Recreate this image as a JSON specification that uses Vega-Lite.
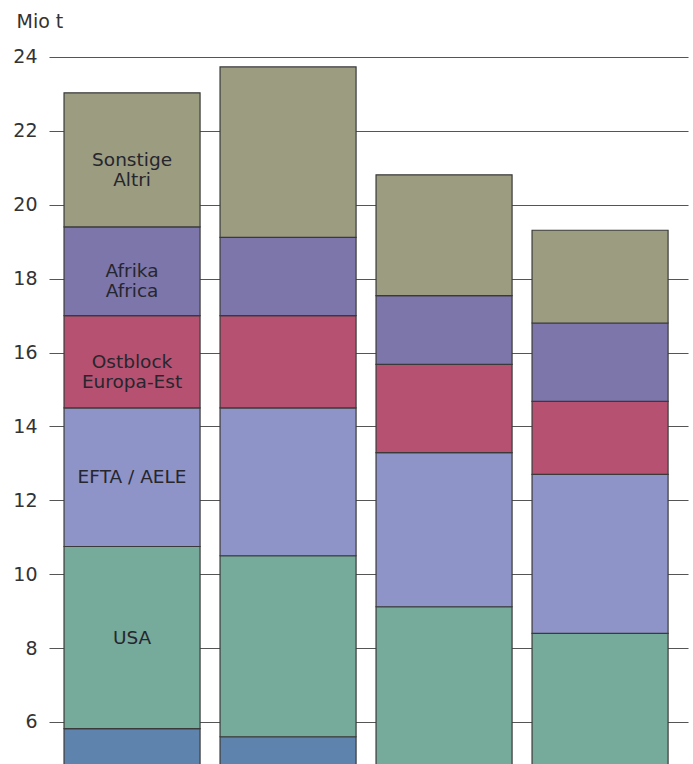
{
  "$schema": "https://vega.github.io/schema/vega-lite/v6.json",
  "width": 639,
  "height": 724,
  "autosize": "none",
  "padding": {"left": 49, "top": 40, "right": 5, "bottom": 0},
  "background": "#ffffff",
  "config": {"view": {"stroke": null}, "font": "DejaVu Sans"},
  "data": {
    "values": [
      {"balken": "1", "kategorie": "Basis", "nr": 1, "wert": 5.82, "label": ""},
      {"balken": "1", "kategorie": "USA", "nr": 2, "wert": 4.93, "label": "USA"},
      {"balken": "1", "kategorie": "EFTA / AELE", "nr": 3, "wert": 3.75, "label": "EFTA / AELE"},
      {"balken": "1", "kategorie": "Ostblock / Europa-Est", "nr": 4, "wert": 2.5, "label": "Ostblock\nEuropa-Est"},
      {"balken": "1", "kategorie": "Afrika / Africa", "nr": 5, "wert": 2.4, "label": "Afrika\nAfrica"},
      {"balken": "1", "kategorie": "Sonstige / Altri", "nr": 6, "wert": 3.63, "label": "Sonstige\nAltri"},
      {"balken": "2", "kategorie": "Basis", "nr": 1, "wert": 5.6, "label": ""},
      {"balken": "2", "kategorie": "USA", "nr": 2, "wert": 4.9, "label": ""},
      {"balken": "2", "kategorie": "EFTA / AELE", "nr": 3, "wert": 4.0, "label": ""},
      {"balken": "2", "kategorie": "Ostblock / Europa-Est", "nr": 4, "wert": 2.5, "label": ""},
      {"balken": "2", "kategorie": "Afrika / Africa", "nr": 5, "wert": 2.12, "label": ""},
      {"balken": "2", "kategorie": "Sonstige / Altri", "nr": 6, "wert": 4.61, "label": ""},
      {"balken": "3", "kategorie": "Basis", "nr": 1, "wert": 4.5, "label": ""},
      {"balken": "3", "kategorie": "USA", "nr": 2, "wert": 4.62, "label": ""},
      {"balken": "3", "kategorie": "EFTA / AELE", "nr": 3, "wert": 4.17, "label": ""},
      {"balken": "3", "kategorie": "Ostblock / Europa-Est", "nr": 4, "wert": 2.39, "label": ""},
      {"balken": "3", "kategorie": "Afrika / Africa", "nr": 5, "wert": 1.86, "label": ""},
      {"balken": "3", "kategorie": "Sonstige / Altri", "nr": 6, "wert": 3.27, "label": ""},
      {"balken": "4", "kategorie": "Basis", "nr": 1, "wert": 4.5, "label": ""},
      {"balken": "4", "kategorie": "USA", "nr": 2, "wert": 3.9, "label": ""},
      {"balken": "4", "kategorie": "EFTA / AELE", "nr": 3, "wert": 4.3, "label": ""},
      {"balken": "4", "kategorie": "Ostblock / Europa-Est", "nr": 4, "wert": 1.98, "label": ""},
      {"balken": "4", "kategorie": "Afrika / Africa", "nr": 5, "wert": 2.12, "label": ""},
      {"balken": "4", "kategorie": "Sonstige / Altri", "nr": 6, "wert": 2.51, "label": ""}
    ]
  },
  "encoding": {
    "x": {
      "field": "balken",
      "type": "nominal",
      "axis": null,
      "scale": {"paddingInner": 0.128, "paddingOuter": 0.112, "align": 0.43}
    }
  },
  "layer": [
    {
      "mark": {"type": "bar", "clip": true, "stroke": "#3a3a3a", "strokeWidth": 1.2},
      "encoding": {
        "y": {
          "field": "wert",
          "type": "quantitative",
          "stack": "zero",
          "scale": {"domain": [4.863, 24.46], "zero": false, "nice": false},
          "axis": {
            "values": [6, 8, 10, 12, 14, 16, 18, 20, 22, 24],
            "title": "Mio t",
            "titleAngle": 0,
            "titleAlign": "left",
            "titleBaseline": "alphabetic",
            "titleX": -33,
            "titleY": -13,
            "titleFont": "DejaVu Sans",
            "titleFontSize": 19,
            "titleFontWeight": "normal",
            "titleColor": "#333333",
            "labelFont": "DejaVu Sans",
            "labelFontSize": 19,
            "labelColor": "#333333",
            "labelPadding": 12,
            "domain": false,
            "ticks": false,
            "grid": true,
            "gridColor": "#555555",
            "gridWidth": 1.1
          }
        },
        "color": {
          "field": "kategorie",
          "type": "nominal",
          "legend": null,
          "scale": {
            "domain": ["Basis", "USA", "EFTA / AELE", "Ostblock / Europa-Est", "Afrika / Africa", "Sonstige / Altri"],
            "range": ["#5e84ad", "#76aa9a", "#8f94c8", "#b65171", "#7d76aa", "#9b9c80"]
          }
        },
        "order": {"field": "nr", "type": "quantitative"}
      }
    },
    {
      "transform": [
        {"filter": "datum.balken == '1'"},
        {"stack": "wert", "groupby": ["balken"], "sort": [{"field": "nr", "order": "ascending"}], "as": ["y0", "y1"]},
        {"filter": "datum.label != ''"},
        {"fold": ["y0", "y1"], "as": ["ende", "pos"]},
        {"aggregate": [{"op": "mean", "field": "pos", "as": "mitte"}], "groupby": ["balken", "label"]}
      ],
      "mark": {
        "type": "text",
        "font": "DejaVu Sans",
        "fontSize": 18.5,
        "color": "#26262e",
        "lineBreak": "\n",
        "lineHeight": 20,
        "baseline": "middle",
        "align": "center"
      },
      "encoding": {
        "y": {"field": "mitte", "type": "quantitative"},
        "text": {"field": "label"}
      }
    }
  ]
}
